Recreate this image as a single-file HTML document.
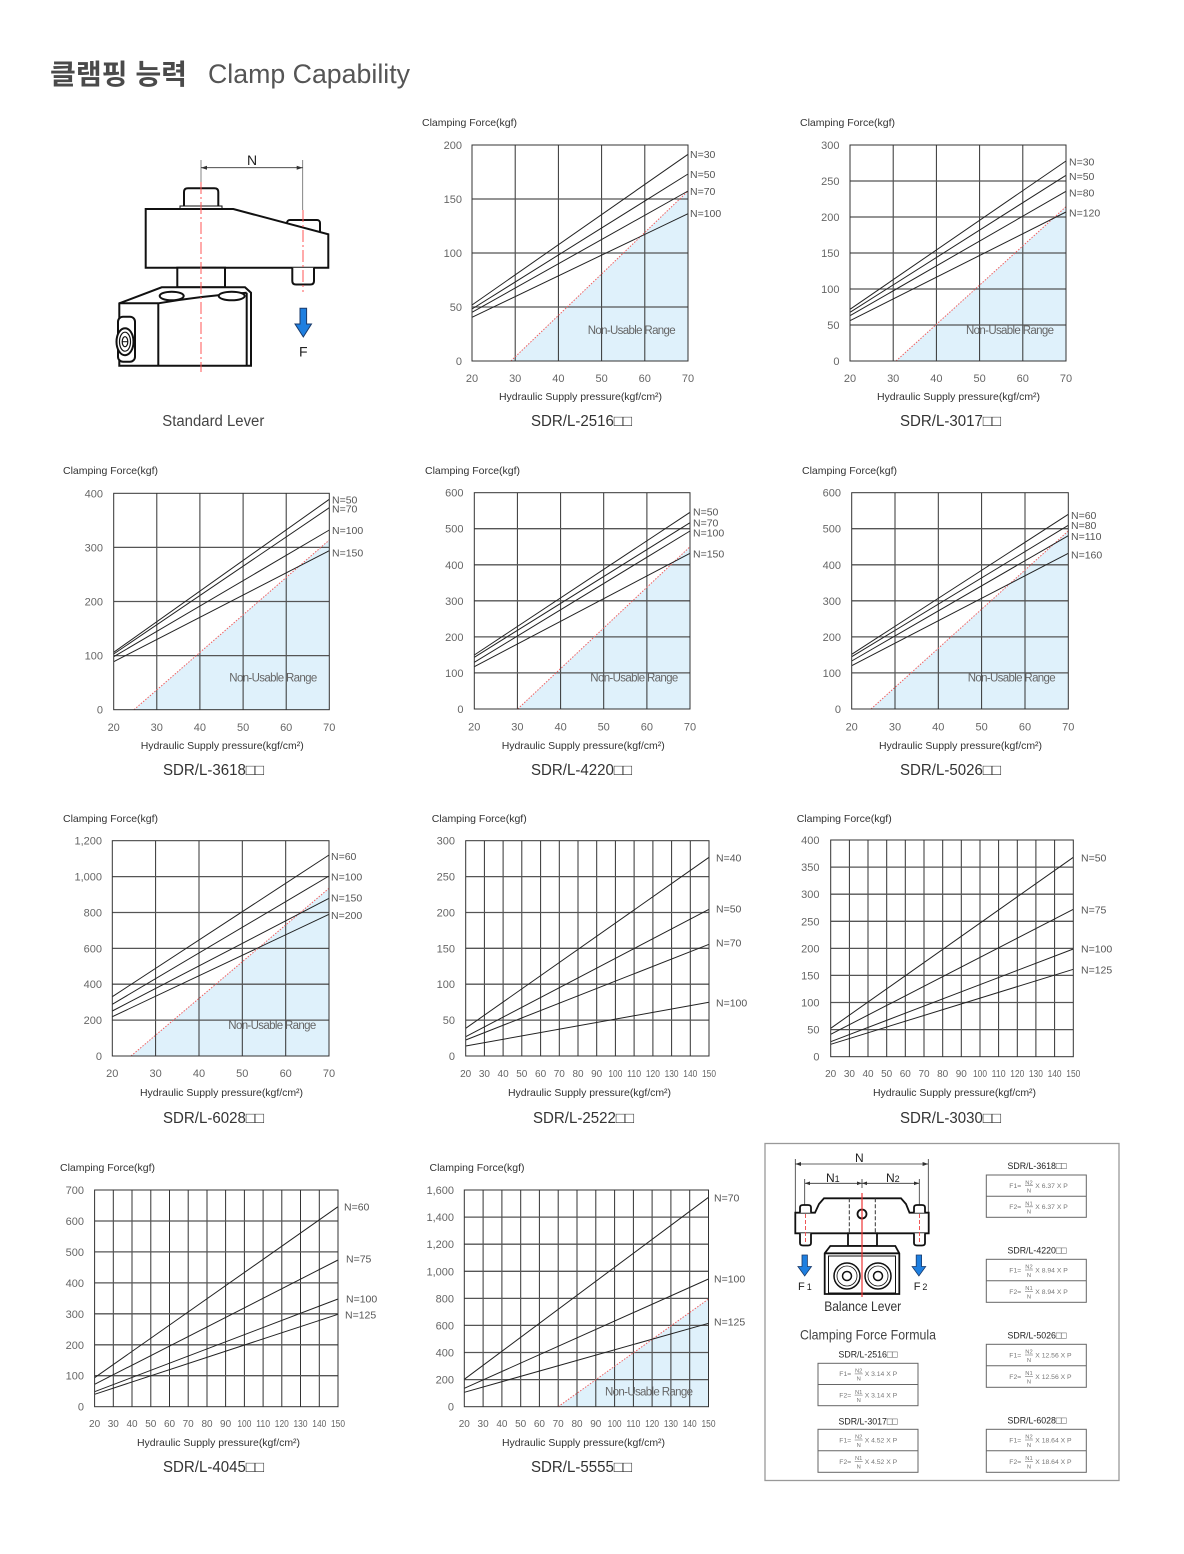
<!DOCTYPE html>
<html><head><meta charset="utf-8">
<style>
html,body{margin:0;padding:0;background:#fff;}
svg{display:block;}
text{font-family:"Liberation Sans","Noto Sans CJK KR",sans-serif;}
.y{font-size:11px;fill:#666;text-anchor:end}
.x{font-size:11px;fill:#666;text-anchor:middle}
.xs{font-size:10px;fill:#666;text-anchor:middle}
.cf{font-size:10.5px;fill:#333}
.ax{font-size:10.5px;fill:#333}
.mt{font-size:15.5px;fill:#333}
.n{font-size:10.5px;fill:#555}
.nu{font-size:11.5px;fill:#666;text-anchor:middle}
.v{stroke:#333;stroke-width:1;fill:none}
.h{stroke:#555;stroke-width:1.3;fill:none}
.s{stroke:#222;stroke-width:1;fill:none}
.r{stroke:#f06060;stroke-width:1;stroke-dasharray:1.5 1.5;fill:none}
.f{fill:#dff1fb}
.bd{fill:none;stroke:#333;stroke-width:1}
.fm{font-size:6.8px;fill:#777}
.fs{font-size:5.8px;fill:#777;text-anchor:middle}
.ft{font-size:9.5px;fill:#222;text-anchor:middle}
.tb{fill:none;stroke:#666;stroke-width:1}
.fb{stroke:#777;stroke-width:0.6}
</style></head>
<body>
<svg width="1184" height="1554" viewBox="0 0 1184 1554" xmlns="http://www.w3.org/2000/svg">
<rect width="1184" height="1554" fill="#fff"/>

<!-- Header -->
<text x="50" y="84" font-size="28" font-weight="bold" fill="#4a4a4a" textLength="137" lengthAdjust="spacingAndGlyphs" font-family="'Noto Sans CJK KR',sans-serif">클램핑 능력</text>
<text x="208" y="83" font-size="27" fill="#555" textLength="202" lengthAdjust="spacingAndGlyphs">Clamp Capability</text>

<!-- Standard lever drawing -->
<g>
<path d="M201 160V182M302.7 160V210" stroke="#666" stroke-width="0.8" fill="none"/>
<path d="M201 167.7H302.7" stroke="#333" stroke-width="0.8"/>
<polygon points="201,167.7 207,165.7 207,169.7" fill="#333"/>
<polygon points="302.7,167.7 296.7,165.7 296.7,169.7" fill="#333"/>
<text x="252" y="165" font-size="14" fill="#222" text-anchor="middle">N</text>
<g stroke="#111" stroke-width="2" fill="#fff">
<path d="M184 209V192Q184 188.3 188 188.3H214.3Q218.3 188.3 218.3 192V209"/>
<path d="M180 209V206H222V209" stroke-width="1"/>
<rect x="287" y="220" width="33" height="30" rx="3"/>
<polygon points="145.7,209 233.3,209 328.3,234.3 328.3,267.7 145.7,267.7"/>
<path d="M292.3 267.7V281Q292.3 284.5 296 284.5H310.3Q314 284.5 314 281V267.7"/>
<rect x="177.3" y="267.7" width="47.7" height="19.6"/>
<polygon points="119.3,303.3 161.7,287.3 245,287.3 251,292.7 251,365.7 119.3,365.7"/>
<path d="M119.3 303.3H158.3Q200 296 246.7 292.7M246.7 292.7V365.7M158.3 303.3V365.7" fill="none"/>
<ellipse cx="171.7" cy="296" rx="12" ry="4.3"/>
<ellipse cx="231.7" cy="296" rx="13" ry="4.3"/>
<rect x="118" y="316.7" width="17" height="45" rx="5"/>
<ellipse cx="125" cy="341.7" rx="8.5" ry="13.5"/>
<ellipse cx="125" cy="341.7" rx="5.5" ry="9.5" stroke-width="1.2"/>
<ellipse cx="125" cy="341.7" rx="2.8" ry="5" stroke-width="1.2"/>
<path d="M122.2 341.7H127.8" stroke-width="1"/>
</g>
<path d="M201 182V372M303 210V292" stroke="#f55" stroke-width="1" stroke-dasharray="12 3 2 3" fill="none"/>
<path d="M300 308.3H306.6V324H311.5L303.3 337L295 324H300Z" fill="#1e7fe0" stroke="#1a3a6a" stroke-width="1"/>
<text x="303.3" y="356.5" font-size="14" fill="#222" text-anchor="middle">F</text>
<text x="213.3" y="426" font-size="15.5" fill="#444" text-anchor="middle" textLength="102" lengthAdjust="spacingAndGlyphs">Standard Lever</text>
</g>

<!-- Chart 2516 -->
<g>
<polygon class="f" points="510.9,361 688,191 688,361"/>
<path class="v" d="M515.2 145V361M558.4 145V361M601.6 145V361M644.8 145V361"/>
<path class="h" d="M472 199H688M472 253H688M472 307H688"/>
<path class="r" d="M510.9 361L688 191"/>
<path class="s" d="M472 305L688 154.3M472 309L688 174M472 312.3L688 191M472 317.3L688 213.7"/>
<rect class="bd" x="472" y="145" width="216" height="216"/>
<text class="cf" x="422" y="126" textLength="95">Clamping Force(kgf)</text>
<text class="y" x="462" y="149">200</text><text class="y" x="462" y="203">150</text><text class="y" x="462" y="257">100</text><text class="y" x="462" y="311">50</text><text class="y" x="462" y="365">0</text>
<text class="x" x="472" y="382">20</text><text class="x" x="515.2" y="382">30</text><text class="x" x="558.4" y="382">40</text><text class="x" x="601.6" y="382">50</text><text class="x" x="644.8" y="382">60</text><text class="x" x="688" y="382">70</text>
<text class="n" x="690" y="158">N=30</text><text class="n" x="690" y="178">N=50</text><text class="n" x="690" y="195">N=70</text><text class="n" x="690" y="217">N=100</text>
<text class="nu" x="631.7" y="334" textLength="88">Non-Usable Range</text>
<text class="ax" x="499" y="400" textLength="163">Hydraulic Supply pressure(kgf/cm²)</text>
<text class="mt" x="531" y="426" textLength="101" lengthAdjust="spacingAndGlyphs">SDR/L-2516□□</text>
</g>

<!-- Chart 3017 -->
<g>
<polygon class="f" points="896,361 1066,206.7 1066,361"/>
<path class="v" d="M893.2 145V361M936.4 145V361M979.6 145V361M1022.8 145V361"/>
<path class="h" d="M850 181H1066M850 217H1066M850 253H1066M850 289H1066M850 325H1066"/>
<path class="r" d="M896 361L1066 206.7"/>
<path class="s" d="M850 309.3L1066 161M850 312.3L1066 175.3M850 315.7L1066 191.3M850 320.7L1066 212"/>
<rect class="bd" x="850" y="145" width="216" height="216"/>
<text class="cf" x="800" y="126" textLength="95">Clamping Force(kgf)</text>
<text class="y" x="839.5" y="149">300</text><text class="y" x="839.5" y="185">250</text><text class="y" x="839.5" y="221">200</text><text class="y" x="839.5" y="257">150</text><text class="y" x="839.5" y="293">100</text><text class="y" x="839.5" y="329">50</text><text class="y" x="839.5" y="365">0</text>
<text class="x" x="850" y="382">20</text><text class="x" x="893.2" y="382">30</text><text class="x" x="936.4" y="382">40</text><text class="x" x="979.6" y="382">50</text><text class="x" x="1022.8" y="382">60</text><text class="x" x="1066" y="382">70</text>
<text class="n" x="1069" y="165.7">N=30</text><text class="n" x="1069" y="180">N=50</text><text class="n" x="1069" y="196.3">N=80</text><text class="n" x="1069" y="216.7">N=120</text>
<text class="nu" x="1010" y="334" textLength="88">Non-Usable Range</text>
<text class="ax" x="877" y="400" textLength="163">Hydraulic Supply pressure(kgf/cm²)</text>
<text class="mt" x="900" y="426" textLength="101" lengthAdjust="spacingAndGlyphs">SDR/L-3017□□</text>
</g>

<!-- Chart 3618 -->
<g>
<polygon class="f" points="134,709.7 329.3,540 329.3,709.7"/>
<path class="v" d="M156.8 493.3V709.7M199.9 493.3V709.7M243.1 493.3V709.7M286.2 493.3V709.7"/>
<path class="h" d="M113.7 547.4H329.3M113.7 601.5H329.3M113.7 655.6H329.3"/>
<path class="r" d="M134 709.7L329.3 540"/>
<path class="s" d="M113.7 652.3L329.3 499.3M113.7 654L329.3 507.7M113.7 656.7L329.3 530M113.7 661.7L329.3 550.7"/>
<rect class="bd" x="113.7" y="493.3" width="215.6" height="216.4"/>
<text class="cf" x="63" y="474" textLength="95">Clamping Force(kgf)</text>
<text class="y" x="103" y="497.3">400</text><text class="y" x="103" y="551.4">300</text><text class="y" x="103" y="605.5">200</text><text class="y" x="103" y="659.6">100</text><text class="y" x="103" y="713.7">0</text>
<text class="x" x="113.7" y="731">20</text><text class="x" x="156.8" y="731">30</text><text class="x" x="199.9" y="731">40</text><text class="x" x="243.1" y="731">50</text><text class="x" x="286.2" y="731">60</text><text class="x" x="329.3" y="731">70</text>
<text class="n" x="332" y="503.3">N=50</text><text class="n" x="332" y="512.3">N=70</text><text class="n" x="332" y="534">N=100</text><text class="n" x="332" y="556.3">N=150</text>
<text class="nu" x="273.3" y="681.7" textLength="88">Non-Usable Range</text>
<text class="ax" x="140.7" y="749" textLength="163">Hydraulic Supply pressure(kgf/cm²)</text>
<text class="mt" x="163" y="775" textLength="101" lengthAdjust="spacingAndGlyphs">SDR/L-3618□□</text>
</g>

<!-- Chart 4220 -->
<g>
<polygon class="f" points="517.7,709 690,546.7 690,709"/>
<path class="v" d="M517.4 492.7V709M560.6 492.7V709M603.7 492.7V709M646.9 492.7V709"/>
<path class="h" d="M474.3 528.7H690M474.3 564.8H690M474.3 600.8H690M474.3 636.9H690M474.3 672.9H690"/>
<path class="r" d="M517.7 709L690 546.7"/>
<path class="s" d="M474.3 655L690 512.3M474.3 657.3L690 522.7M474.3 662.3L690 531M474.3 666.7L690 553.3"/>
<rect class="bd" x="474.3" y="492.7" width="215.7" height="216.3"/>
<text class="cf" x="425" y="474" textLength="95">Clamping Force(kgf)</text>
<text class="y" x="463.5" y="496.7">600</text><text class="y" x="463.5" y="532.7">500</text><text class="y" x="463.5" y="568.8">400</text><text class="y" x="463.5" y="604.8">300</text><text class="y" x="463.5" y="640.9">200</text><text class="y" x="463.5" y="676.9">100</text><text class="y" x="463.5" y="713">0</text>
<text class="x" x="474.3" y="730.5">20</text><text class="x" x="517.4" y="730.5">30</text><text class="x" x="560.6" y="730.5">40</text><text class="x" x="603.7" y="730.5">50</text><text class="x" x="646.9" y="730.5">60</text><text class="x" x="690" y="730.5">70</text>
<text class="n" x="693" y="515.7">N=50</text><text class="n" x="693" y="526.7">N=70</text><text class="n" x="693" y="536.7">N=100</text><text class="n" x="693" y="557.3">N=150</text>
<text class="nu" x="634.3" y="681.7" textLength="88">Non-Usable Range</text>
<text class="ax" x="501.7" y="749" textLength="163">Hydraulic Supply pressure(kgf/cm²)</text>
<text class="mt" x="531" y="775" textLength="101" lengthAdjust="spacingAndGlyphs">SDR/L-4220□□</text>
</g>

<!-- Chart 5026 -->
<g>
<polygon class="f" points="871,709 1068.3,531 1068.3,709"/>
<path class="v" d="M895 492.7V709M938.3 492.7V709M981.6 492.7V709M1025 492.7V709"/>
<path class="h" d="M851.7 528.7H1068.3M851.7 564.8H1068.3M851.7 600.8H1068.3M851.7 636.9H1068.3M851.7 672.9H1068.3"/>
<path class="r" d="M871 709L1068.3 531"/>
<path class="s" d="M851.7 654.3L1068.3 514.3M851.7 656.7L1068.3 525.3M851.7 661L1068.3 535.7M851.7 665.7L1068.3 553.3"/>
<rect class="bd" x="851.7" y="492.7" width="216.6" height="216.3"/>
<text class="cf" x="802" y="474" textLength="95">Clamping Force(kgf)</text>
<text class="y" x="841" y="496.7">600</text><text class="y" x="841" y="532.7">500</text><text class="y" x="841" y="568.8">400</text><text class="y" x="841" y="604.8">300</text><text class="y" x="841" y="640.9">200</text><text class="y" x="841" y="676.9">100</text><text class="y" x="841" y="713">0</text>
<text class="x" x="851.7" y="730.5">20</text><text class="x" x="895" y="730.5">30</text><text class="x" x="938.3" y="730.5">40</text><text class="x" x="981.6" y="730.5">50</text><text class="x" x="1025" y="730.5">60</text><text class="x" x="1068.3" y="730.5">70</text>
<text class="n" x="1071" y="519">N=60</text><text class="n" x="1071" y="529">N=80</text><text class="n" x="1071" y="540">N=110</text><text class="n" x="1071" y="558.3">N=160</text>
<text class="nu" x="1011.7" y="681.7" textLength="88">Non-Usable Range</text>
<text class="ax" x="879" y="749" textLength="163">Hydraulic Supply pressure(kgf/cm²)</text>
<text class="mt" x="900" y="775" textLength="101" lengthAdjust="spacingAndGlyphs">SDR/L-5026□□</text>
</g>

<!-- Chart 6028 -->
<g>
<polygon class="f" points="131,1056 329,888.3 329,1056"/>
<path class="v" d="M155.6 840.7V1056M199 840.7V1056M242.3 840.7V1056M285.7 840.7V1056"/>
<path class="h" d="M112.3 876.6H329M112.3 912.5H329M112.3 948.4H329M112.3 984.2H329M112.3 1020.1H329"/>
<path class="r" d="M131 1056L329 888.3"/>
<path class="s" d="M112.3 996.7L329 855M112.3 1004.3L329 876M112.3 1011L329 898.3M112.3 1016.7L329 914.3"/>
<rect class="bd" x="112.3" y="840.7" width="216.7" height="215.3"/>
<text class="cf" x="63" y="822" textLength="95">Clamping Force(kgf)</text>
<text class="y" x="102" y="844.7">1,200</text><text class="y" x="102" y="880.6">1,000</text><text class="y" x="102" y="916.5">800</text><text class="y" x="102" y="952.4">600</text><text class="y" x="102" y="988.2">400</text><text class="y" x="102" y="1024.1">200</text><text class="y" x="102" y="1060">0</text>
<text class="x" x="112.3" y="1077">20</text><text class="x" x="155.6" y="1077">30</text><text class="x" x="199" y="1077">40</text><text class="x" x="242.3" y="1077">50</text><text class="x" x="285.7" y="1077">60</text><text class="x" x="329" y="1077">70</text>
<text class="n" x="331" y="860">N=60</text><text class="n" x="331" y="880.7">N=100</text><text class="n" x="331" y="901.7">N=150</text><text class="n" x="331" y="919">N=200</text>
<text class="nu" x="272.3" y="1029" textLength="88">Non-Usable Range</text>
<text class="ax" x="140" y="1096" textLength="163">Hydraulic Supply pressure(kgf/cm²)</text>
<text class="mt" x="163" y="1123" textLength="101" lengthAdjust="spacingAndGlyphs">SDR/L-6028□□</text>
</g>

<!-- Chart 2522 -->
<g>
<path class="v" d="M484.4 840.7V1056M503.1 840.7V1056M521.8 840.7V1056M540.6 840.7V1056M559.3 840.7V1056M578 840.7V1056M596.7 840.7V1056M615.4 840.7V1056M634.1 840.7V1056M652.9 840.7V1056M671.6 840.7V1056M690.3 840.7V1056"/>
<path class="h" d="M465.7 876.6H709M465.7 912.5H709M465.7 948.3H709M465.7 984.2H709M465.7 1020.1H709"/>
<path class="s" d="M465.7 1028.3L709 857.3M465.7 1036.7L709 909.3M465.7 1040L709 944.3M465.7 1046L709 1002.3"/>
<rect class="bd" x="465.7" y="840.7" width="243.3" height="215.3"/>
<text class="cf" x="431.7" y="822" textLength="95">Clamping Force(kgf)</text>
<text class="y" x="455" y="844.7">300</text><text class="y" x="455" y="880.6">250</text><text class="y" x="455" y="916.5">200</text><text class="y" x="455" y="952.3">150</text><text class="y" x="455" y="988.2">100</text><text class="y" x="455" y="1024.1">50</text><text class="y" x="455" y="1060">0</text>
<text class="xs" x="465.7" y="1077">20</text><text class="xs" x="484.4" y="1077">30</text><text class="xs" x="503.1" y="1077">40</text><text class="xs" x="521.8" y="1077">50</text><text class="xs" x="540.6" y="1077">60</text><text class="xs" x="559.3" y="1077">70</text><text class="xs" x="578" y="1077">80</text><text class="xs" x="596.7" y="1077">90</text><text class="xs" x="615.4" y="1077" textLength="14" lengthAdjust="spacingAndGlyphs">100</text><text class="xs" x="634.1" y="1077" textLength="14" lengthAdjust="spacingAndGlyphs">110</text><text class="xs" x="652.9" y="1077" textLength="14" lengthAdjust="spacingAndGlyphs">120</text><text class="xs" x="671.6" y="1077" textLength="14" lengthAdjust="spacingAndGlyphs">130</text><text class="xs" x="690.3" y="1077" textLength="14" lengthAdjust="spacingAndGlyphs">140</text><text class="xs" x="709" y="1077" textLength="14" lengthAdjust="spacingAndGlyphs">150</text>
<text class="n" x="716" y="861.3">N=40</text><text class="n" x="716" y="912.3">N=50</text><text class="n" x="716" y="946.3">N=70</text><text class="n" x="716" y="1006.3">N=100</text>
<text class="ax" x="508" y="1096" textLength="163">Hydraulic Supply pressure(kgf/cm²)</text>
<text class="mt" x="533" y="1123" textLength="101" lengthAdjust="spacingAndGlyphs">SDR/L-2522□□</text>
</g>

<!-- Chart 3030 -->
<g>
<path class="v" d="M849.4 840V1056.7M868 840V1056.7M886.7 840V1056.7M905.3 840V1056.7M924 840V1056.7M942.7 840V1056.7M961.3 840V1056.7M980 840V1056.7M998.6 840V1056.7M1017.3 840V1056.7M1035.9 840V1056.7M1054.6 840V1056.7"/>
<path class="h" d="M830.7 867.1H1073.3M830.7 894.2H1073.3M830.7 921.3H1073.3M830.7 948.4H1073.3M830.7 975.4H1073.3M830.7 1002.5H1073.3M830.7 1029.6H1073.3"/>
<path class="s" d="M830.7 1028.3L1073.3 857.3M830.7 1034.3L1073.3 909.3M830.7 1041.7L1073.3 949M830.7 1044.3L1073.3 969.3"/>
<rect class="bd" x="830.7" y="840" width="242.6" height="216.7"/>
<text class="cf" x="796.7" y="822" textLength="95">Clamping Force(kgf)</text>
<text class="y" x="819.5" y="844">400</text><text class="y" x="819.5" y="871.1">350</text><text class="y" x="819.5" y="898.2">300</text><text class="y" x="819.5" y="925.3">250</text><text class="y" x="819.5" y="952.4">200</text><text class="y" x="819.5" y="979.4">150</text><text class="y" x="819.5" y="1006.5">100</text><text class="y" x="819.5" y="1033.6">50</text><text class="y" x="819.5" y="1060.7">0</text>
<text class="xs" x="830.7" y="1077">20</text><text class="xs" x="849.4" y="1077">30</text><text class="xs" x="868" y="1077">40</text><text class="xs" x="886.7" y="1077">50</text><text class="xs" x="905.3" y="1077">60</text><text class="xs" x="924" y="1077">70</text><text class="xs" x="942.7" y="1077">80</text><text class="xs" x="961.3" y="1077">90</text><text class="xs" x="980" y="1077" textLength="14" lengthAdjust="spacingAndGlyphs">100</text><text class="xs" x="998.6" y="1077" textLength="14" lengthAdjust="spacingAndGlyphs">110</text><text class="xs" x="1017.3" y="1077" textLength="14" lengthAdjust="spacingAndGlyphs">120</text><text class="xs" x="1035.9" y="1077" textLength="14" lengthAdjust="spacingAndGlyphs">130</text><text class="xs" x="1054.6" y="1077" textLength="14" lengthAdjust="spacingAndGlyphs">140</text><text class="xs" x="1073.3" y="1077" textLength="14" lengthAdjust="spacingAndGlyphs">150</text>
<text class="n" x="1081" y="861.3">N=50</text><text class="n" x="1081" y="913.3">N=75</text><text class="n" x="1081" y="952.3">N=100</text><text class="n" x="1081" y="973.3">N=125</text>
<text class="ax" x="873" y="1096" textLength="163">Hydraulic Supply pressure(kgf/cm²)</text>
<text class="mt" x="900" y="1123" textLength="101" lengthAdjust="spacingAndGlyphs">SDR/L-3030□□</text>
</g>

<!-- Chart 4045 -->
<g>
<path class="v" d="M113.3 1190V1406.7M132 1190V1406.7M150.8 1190V1406.7M169.5 1190V1406.7M188.2 1190V1406.7M207 1190V1406.7M225.6 1190V1406.7M244.4 1190V1406.7M263.1 1190V1406.7M281.8 1190V1406.7M300.5 1190V1406.7M319.3 1190V1406.7"/>
<path class="h" d="M94.6 1221H338M94.6 1251.9H338M94.6 1282.9H338M94.6 1313.8H338M94.6 1344.8H338M94.6 1375.7H338"/>
<path class="s" d="M94.6 1377.7L338 1206.7M94.6 1384.3L338 1260M94.6 1391.7L338 1299M94.6 1394.3L338 1314.3"/>
<rect class="bd" x="94.6" y="1190" width="243.4" height="216.7"/>
<text class="cf" x="60" y="1171" textLength="95">Clamping Force(kgf)</text>
<text class="y" x="84" y="1194">700</text><text class="y" x="84" y="1225">600</text><text class="y" x="84" y="1255.9">500</text><text class="y" x="84" y="1286.9">400</text><text class="y" x="84" y="1317.8">300</text><text class="y" x="84" y="1348.8">200</text><text class="y" x="84" y="1379.7">100</text><text class="y" x="84" y="1410.7">0</text>
<text class="xs" x="94.6" y="1427">20</text><text class="xs" x="113.3" y="1427">30</text><text class="xs" x="132" y="1427">40</text><text class="xs" x="150.8" y="1427">50</text><text class="xs" x="169.5" y="1427">60</text><text class="xs" x="188.2" y="1427">70</text><text class="xs" x="207" y="1427">80</text><text class="xs" x="225.6" y="1427">90</text><text class="xs" x="244.4" y="1427" textLength="14" lengthAdjust="spacingAndGlyphs">100</text><text class="xs" x="263.1" y="1427" textLength="14" lengthAdjust="spacingAndGlyphs">110</text><text class="xs" x="281.8" y="1427" textLength="14" lengthAdjust="spacingAndGlyphs">120</text><text class="xs" x="300.5" y="1427" textLength="14" lengthAdjust="spacingAndGlyphs">130</text><text class="xs" x="319.3" y="1427" textLength="14" lengthAdjust="spacingAndGlyphs">140</text><text class="xs" x="338" y="1427" textLength="14" lengthAdjust="spacingAndGlyphs">150</text>
<text class="n" x="344" y="1210.7">N=60</text><text class="n" x="346" y="1262.3">N=75</text><text class="n" x="346" y="1302.3">N=100</text><text class="n" x="345" y="1318.3">N=125</text>
<text class="ax" x="137" y="1446" textLength="163">Hydraulic Supply pressure(kgf/cm²)</text>
<text class="mt" x="163" y="1472" textLength="101" lengthAdjust="spacingAndGlyphs">SDR/L-4045□□</text>
</g>

<!-- Chart 5555 -->
<g>
<polygon class="f" points="558.2,1406.7 708.5,1299 708.5,1406.7"/>
<path class="v" d="M483.1 1190V1406.7M501.9 1190V1406.7M520.7 1190V1406.7M539.4 1190V1406.7M558.2 1190V1406.7M577 1190V1406.7M595.8 1190V1406.7M614.6 1190V1406.7M633.4 1190V1406.7M652.1 1190V1406.7M670.9 1190V1406.7M689.7 1190V1406.7"/>
<path class="h" d="M464.3 1217.1H708.5M464.3 1244.2H708.5M464.3 1271.3H708.5M464.3 1298.4H708.5M464.3 1325.4H708.5M464.3 1352.5H708.5M464.3 1379.6H708.5"/>
<path class="r" d="M558.2 1406.7L708.5 1299"/>
<path class="s" d="M464.3 1379.3L708.5 1197.3M464.3 1388.3L708.5 1279M464.3 1392.3L708.5 1323.3"/>
<rect class="bd" x="464.3" y="1190" width="244.2" height="216.7"/>
<text class="cf" x="429.5" y="1171" textLength="95">Clamping Force(kgf)</text>
<text class="y" x="454" y="1194">1,600</text><text class="y" x="454" y="1221.1">1,400</text><text class="y" x="454" y="1248.2">1,200</text><text class="y" x="454" y="1275.3">1,000</text><text class="y" x="454" y="1302.4">800</text><text class="y" x="454" y="1329.4">600</text><text class="y" x="454" y="1356.5">400</text><text class="y" x="454" y="1383.6">200</text><text class="y" x="454" y="1410.7">0</text>
<text class="xs" x="464.3" y="1427">20</text><text class="xs" x="483.1" y="1427">30</text><text class="xs" x="501.9" y="1427">40</text><text class="xs" x="520.7" y="1427">50</text><text class="xs" x="539.4" y="1427">60</text><text class="xs" x="558.2" y="1427">70</text><text class="xs" x="577" y="1427">80</text><text class="xs" x="595.8" y="1427">90</text><text class="xs" x="614.6" y="1427" textLength="14" lengthAdjust="spacingAndGlyphs">100</text><text class="xs" x="633.4" y="1427" textLength="14" lengthAdjust="spacingAndGlyphs">110</text><text class="xs" x="652.1" y="1427" textLength="14" lengthAdjust="spacingAndGlyphs">120</text><text class="xs" x="670.9" y="1427" textLength="14" lengthAdjust="spacingAndGlyphs">130</text><text class="xs" x="689.7" y="1427" textLength="14" lengthAdjust="spacingAndGlyphs">140</text><text class="xs" x="708.5" y="1427" textLength="14" lengthAdjust="spacingAndGlyphs">150</text>
<text class="n" x="714" y="1201.3">N=70</text><text class="n" x="714" y="1282.3">N=100</text><text class="n" x="714" y="1325.7">N=125</text>
<text class="nu" x="649" y="1395.7" textLength="88">Non-Usable Range</text>
<text class="ax" x="502" y="1446" textLength="163">Hydraulic Supply pressure(kgf/cm²)</text>
<text class="mt" x="531" y="1472" textLength="101" lengthAdjust="spacingAndGlyphs">SDR/L-5555□□</text>
</g>

<!-- Balance lever box -->
<g>
<rect x="765" y="1143.5" width="354" height="337" fill="none" stroke="#999" stroke-width="1.3"/>
<path d="M795.3 1159V1212M928.3 1159V1212M795.3 1164H928.3M804.7 1179V1207M919.3 1179V1207M804.7 1183.3H919.3M862 1179V1188" stroke="#333" stroke-width="0.8" fill="none"/>
<polygon points="795.3,1164 801,1162 801,1166" fill="#333"/>
<polygon points="928.3,1164 922.6,1162 922.6,1166" fill="#333"/>
<polygon points="804.7,1183.3 810,1181.5 810,1185.1" fill="#333"/>
<polygon points="919.3,1183.3 914,1181.5 914,1185.1" fill="#333"/>
<polygon points="862,1183.3 857,1181.5 857,1185.1" fill="#333"/>
<polygon points="862,1183.3 867,1181.5 867,1185.1" fill="#333"/>
<text x="859.3" y="1162" font-size="12" fill="#222" text-anchor="middle">N</text>
<text x="826" y="1182" font-size="12" fill="#222">N<tspan font-size="9">1</tspan></text>
<text x="886" y="1182" font-size="12" fill="#222">N<tspan font-size="9">2</tspan></text>
<g stroke="#111" stroke-width="1.8" fill="#fff">
<polygon points="795.3,1212.7 815,1212.7 819,1204 824,1198.3 901,1198.3 906,1204 909.5,1212.7 928.7,1212.7 928.7,1233.3 795.3,1233.3"/>
<path d="M800 1212.7V1207.5Q800 1205 803 1205H808Q811 1205 811 1207.5V1212.7M800 1233.3V1243Q800 1245.5 803 1245.5H808Q811 1245.5 811 1243V1233.3"/>
<path d="M914 1212.7V1207.5Q914 1205 917 1205H922Q925 1205 925 1207.5V1212.7M914 1233.3V1243Q914 1245.5 917 1245.5H922Q925 1245.5 925 1243V1233.3"/>
<circle cx="862" cy="1214" r="4.5"/>
<rect x="848" y="1233.3" width="29" height="12.7"/>
<polygon points="824.7,1253.3 830.3,1246 895.3,1246 899.3,1253.3 899.3,1294 824.7,1294"/>
<path d="M824.7 1253.3H899.3" fill="none"/>
<rect x="828.5" y="1256" width="67" height="37" stroke-width="1"/>
<circle cx="847" cy="1276" r="13" stroke-width="1.5"/>
<circle cx="847" cy="1276" r="10" stroke-width="0.8"/>
<circle cx="847" cy="1276" r="4.5" stroke-width="1.5"/>
<circle cx="878" cy="1276" r="13" stroke-width="1.5"/>
<circle cx="878" cy="1276" r="10" stroke-width="0.8"/>
<circle cx="878" cy="1276" r="4.5" stroke-width="1.5"/>
</g>
<path d="M849.3 1198.3V1233.3M875.3 1198.3V1233.3" stroke="#333" stroke-width="1" stroke-dasharray="4 2"/>
<path d="M862 1193V1297" stroke="#e33" stroke-width="1.2"/>
<path d="M805.5 1214V1244M919.5 1214V1244" stroke="#e55" stroke-width="1" stroke-dasharray="4 2"/>
<path d="M802 1255H807.4V1266.5H811.5L804.7 1276L797.9 1266.5H802Z" fill="#1e7fe0" stroke="#1a3a6a" stroke-width="0.8"/>
<path d="M916.2 1255H921.6V1266.5H925.7L918.9 1276L912.1 1266.5H916.2Z" fill="#1e7fe0" stroke="#1a3a6a" stroke-width="0.8"/>
<text x="798" y="1290" font-size="11" fill="#222">F<tspan font-size="9" dx="2">1</tspan></text>
<text x="913.7" y="1290" font-size="11" fill="#222">F<tspan font-size="9" dx="2">2</tspan></text>
<text x="862.7" y="1311" font-size="14" fill="#333" text-anchor="middle" textLength="77" lengthAdjust="spacingAndGlyphs">Balance Lever</text>
<text x="868" y="1339.5" font-size="14" fill="#444" text-anchor="middle" textLength="136" lengthAdjust="spacingAndGlyphs">Clamping Force Formula</text>

<!-- Left tables -->
<text class="ft" x="868" y="1357.7" textLength="59" lengthAdjust="spacingAndGlyphs">SDR/L-2516□□</text>
<rect class="tb" x="818" y="1363.3" width="100" height="42.4"/>
<path class="tb" d="M818 1384.5H918"/>
<text class="fm" x="839.3" y="1376.2">F1=</text><text class="fs" x="858.7" y="1372.6">N2</text><path class="fb" d="M854.7 1373.9H862.7"/><text class="fs" x="858.7" y="1380.7">N</text><text class="fm" x="864.7" y="1376.2">X 3.14 X P</text>
<text class="fm" x="839.3" y="1397.4">F2=</text><text class="fs" x="858.7" y="1393.8">N1</text><path class="fb" d="M854.7 1395.1H862.7"/><text class="fs" x="858.7" y="1401.9">N</text><text class="fm" x="864.7" y="1397.4">X 3.14 X P</text>

<text class="ft" x="868" y="1424.5" textLength="59" lengthAdjust="spacingAndGlyphs">SDR/L-3017□□</text>
<rect class="tb" x="818" y="1429.3" width="100" height="43"/>
<path class="tb" d="M818 1450.8H918"/>
<text class="fm" x="839.3" y="1442.3">F1=</text><text class="fs" x="858.7" y="1438.7">N2</text><path class="fb" d="M854.7 1440H862.7"/><text class="fs" x="858.7" y="1446.8">N</text><text class="fm" x="864.7" y="1442.3">X 4.52 X P</text>
<text class="fm" x="839.3" y="1463.8">F2=</text><text class="fs" x="858.7" y="1460.2">N1</text><path class="fb" d="M854.7 1461.5H862.7"/><text class="fs" x="858.7" y="1468.3">N</text><text class="fm" x="864.7" y="1463.8">X 4.52 X P</text>

<!-- Right tables -->
<text class="ft" x="1037" y="1169.2" textLength="59" lengthAdjust="spacingAndGlyphs">SDR/L-3618□□</text>
<rect class="tb" x="986.3" y="1175" width="100" height="42.3"/>
<path class="tb" d="M986.3 1196.2H1086.3"/>
<text class="fm" x="1009.3" y="1187.9">F1=</text><text class="fs" x="1029" y="1184.3">N2</text><path class="fb" d="M1025 1185.6H1033"/><text class="fs" x="1029" y="1192.4">N</text><text class="fm" x="1035.3" y="1187.9">X 6.37 X P</text>
<text class="fm" x="1009.3" y="1209.1">F2=</text><text class="fs" x="1029" y="1205.5">N1</text><path class="fb" d="M1025 1206.8H1033"/><text class="fs" x="1029" y="1213.6">N</text><text class="fm" x="1035.3" y="1209.1">X 6.37 X P</text>

<text class="ft" x="1037" y="1253.5" textLength="59" lengthAdjust="spacingAndGlyphs">SDR/L-4220□□</text>
<rect class="tb" x="986.3" y="1259.3" width="100" height="43"/>
<path class="tb" d="M986.3 1280.8H1086.3"/>
<text class="fm" x="1009.3" y="1272.3">F1=</text><text class="fs" x="1029" y="1268.7">N2</text><path class="fb" d="M1025 1270H1033"/><text class="fs" x="1029" y="1276.8">N</text><text class="fm" x="1035.3" y="1272.3">X 8.94 X P</text>
<text class="fm" x="1009.3" y="1293.8">F2=</text><text class="fs" x="1029" y="1290.2">N1</text><path class="fb" d="M1025 1291.5H1033"/><text class="fs" x="1029" y="1298.3">N</text><text class="fm" x="1035.3" y="1293.8">X 8.94 X P</text>

<text class="ft" x="1037" y="1338.5" textLength="59" lengthAdjust="spacingAndGlyphs">SDR/L-5026□□</text>
<rect class="tb" x="986.3" y="1344.3" width="100" height="43"/>
<path class="tb" d="M986.3 1365.8H1086.3"/>
<text class="fm" x="1009.3" y="1357.3">F1=</text><text class="fs" x="1029" y="1353.7">N2</text><path class="fb" d="M1025 1355H1033"/><text class="fs" x="1029" y="1361.8">N</text><text class="fm" x="1035.3" y="1357.3">X 12.56 X P</text>
<text class="fm" x="1009.3" y="1378.8">F2=</text><text class="fs" x="1029" y="1375.2">N1</text><path class="fb" d="M1025 1376.5H1033"/><text class="fs" x="1029" y="1383.3">N</text><text class="fm" x="1035.3" y="1378.8">X 12.56 X P</text>

<text class="ft" x="1037" y="1423.5" textLength="59" lengthAdjust="spacingAndGlyphs">SDR/L-6028□□</text>
<rect class="tb" x="986.3" y="1429.3" width="100" height="43"/>
<path class="tb" d="M986.3 1450.8H1086.3"/>
<text class="fm" x="1009.3" y="1442.3">F1=</text><text class="fs" x="1029" y="1438.7">N2</text><path class="fb" d="M1025 1440H1033"/><text class="fs" x="1029" y="1446.8">N</text><text class="fm" x="1035.3" y="1442.3">X 18.64 X P</text>
<text class="fm" x="1009.3" y="1463.8">F2=</text><text class="fs" x="1029" y="1460.2">N1</text><path class="fb" d="M1025 1461.5H1033"/><text class="fs" x="1029" y="1468.3">N</text><text class="fm" x="1035.3" y="1463.8">X 18.64 X P</text>
</g>
</svg>
</body></html>
